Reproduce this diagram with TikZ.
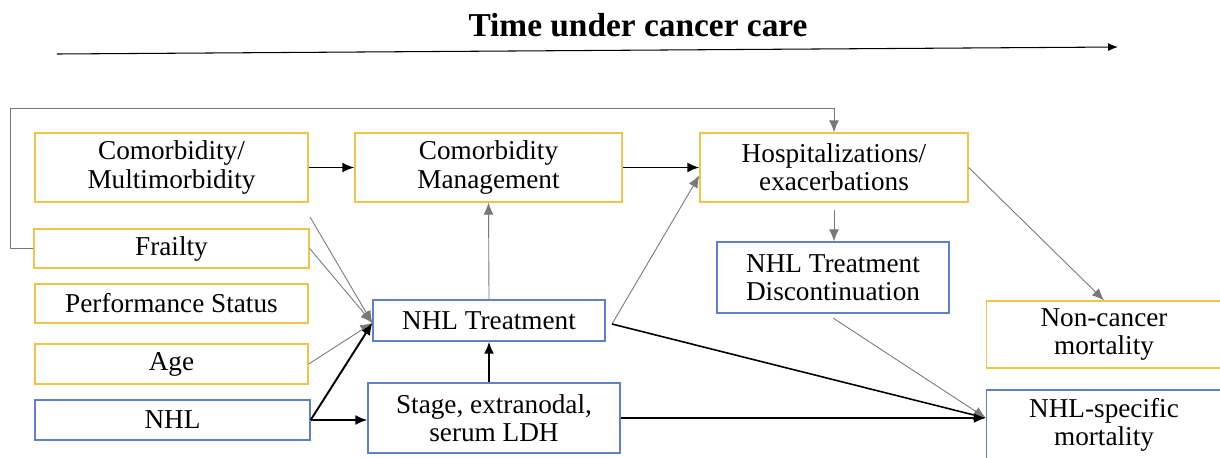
\documentclass[tikz,border=0pt]{standalone}
\usepackage{fontspec}
\setmainfont{Liberation Serif}
\usepackage{tikz}
\usetikzlibrary{arrows.meta,positioning}
\definecolor{cgold}{RGB}{240,196,72}
\definecolor{cblue}{RGB}{96,128,200}
\definecolor{cgray}{RGB}{120,120,120}

\begin{document}
\begin{tikzpicture}[
  x=0.02cm, y=-0.02cm,
  font=\fontsize{15.5}{16}\selectfont,
  yb/.style={draw=cgold,thick,fill=white,align=center,inner sep=0pt},
  bb/.style={draw=cblue,thick,fill=white,align=center,inner sep=0pt},
  arr/.style={-{Latex[length=2.4mm,width=2mm]},line width=1.1pt,black},
  garr/.style={-{Latex[length=2.4mm,width=2mm]},line width=0.5pt,cgray},
  ]
  \useasboundingbox (0,0) rectangle (1220,457);
  % time axis
  \node[font=\fontsize{19}{22}\selectfont\bfseries] (title) at (638,25) {Time under cancer care};
  \coordinate (t0) at (57,54);
  \coordinate (t1) at (1118,47);
  \draw[-{Latex[length=2mm,width=1.6mm]},line width=0.6pt] (t0) -- (t1);
  % left column
  \node[yb,minimum width=5.46cm,minimum height=1.38cm] (comorb) at (171.5,167.5) {Comorbidity/\\Multimorbidity};
  \node[yb,minimum width=5.5cm,minimum height=0.78cm] (frail) at (171.5,248.5) {Frailty};
  \node[yb,minimum width=5.46cm,minimum height=0.78cm] (perf) at (171.5,303.5) {Performance Status};
  \node[yb,minimum width=5.46cm,minimum height=0.8cm] (age) at (171.5,364) {Age};
  \node[bb,minimum width=5.5cm,minimum height=0.8cm] (nhl) at (172.5,420) {NHL};
  % middle
  \node[yb,minimum width=5.34cm,minimum height=1.38cm] (mgmt) at (488.5,167.5) {Comorbidity\\Management};
  \node[bb,minimum width=4.64cm,minimum height=0.82cm] (treat) at (489,320.5) {NHL Treatment};
  \node[bb,minimum width=5.04cm,minimum height=1.4cm] (stage) at (494,418) {Stage, extranodal,\\serum LDH};
  % right
  \node[yb,minimum width=5.36cm,minimum height=1.38cm] (hosp) at (834,167.5) {Hospitalizations/\\exacerbations};
  \node[bb,minimum width=4.64cm,minimum height=1.42cm] (disc) at (833,277.5) {NHL Treatment\\Discontinuation};
  \node[yb,minimum width=4.7cm,minimum height=1.34cm] (noncan) at (1104,334.5) {Non-cancer\\mortality};
  \node[bb,minimum width=4.7cm,minimum height=1.4cm] (nhlmort) at (1104,425) {NHL-specific\\mortality};
  % helper points
  \coordinate (cm0) at (310,217);
  \coordinate (tr0) at (612,324);
  \coordinate (ho0) at (834,210);
  \coordinate (di0) at (833,318);
  \coordinate (lp) at (10,108);
  \coordinate (nm) at (nhlmort.west |- stage.east);
  % feedback loop
  \draw[garr] (frail.west) -| (lp) -| (hosp.north);
  % arrows
  \draw[arr] (comorb.east) -- (mgmt.west);
  \draw[arr] (mgmt.east) -- (hosp.west);
  \draw[garr] (treat.north) -- (mgmt.south);
  \draw[garr] (ho0) -- (hosp.south |- disc.north);
  \draw[garr] (hosp.east) -- (noncan.north);
  \draw[garr] (tr0) -- ([yshift=-0.16cm]hosp.west);
  \draw[arr,line width=0.9pt] (tr0) -- (nm);
  \draw[garr] (di0) -- (nm);
  \draw[arr] (stage.east) -- (nm);
  \draw[garr] (cm0) -- ([yshift=-0.05cm]treat.west);
  \draw[garr] (frail.east) -- ([yshift=-0.05cm]treat.west);
  \draw[garr] (age.east) -- ([yshift=-0.05cm]treat.west);
  \draw[arr] (nhl.east) -- ([yshift=-0.05cm]treat.west);
  \draw[arr] (nhl.east) -- (nhl.east -| stage.west);
  \draw[arr] (stage.north -| treat.south) -- (treat.south);
\end{tikzpicture}
\end{document}
